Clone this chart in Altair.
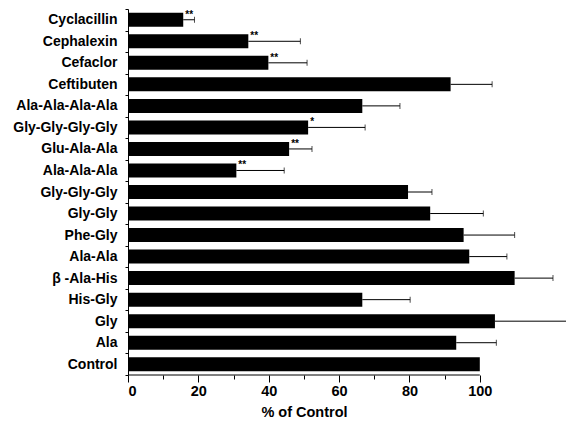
import altair as alt
import pandas as pd

categories = ["Cyclacillin", "Cephalexin", "Cefaclor", "Ceftibuten",
              "Ala-Ala-Ala-Ala", "Gly-Gly-Gly-Gly", "Glu-Ala-Ala", "Ala-Ala-Ala",
              "Gly-Gly-Gly", "Gly-Gly", "Phe-Gly", "Ala-Ala", "β -Ala-His",
              "His-Gly", "Gly", "Ala", "Control"]
values = [15.7, 34.2, 39.9, 91.7, 66.6, 51.2, 45.8, 30.8, 79.6, 85.9,
          95.4, 97.0, 109.9, 66.6, 104.3, 93.3, 100.0]
errors = [3.2, 14.8, 11.0, 11.8, 10.7, 16.2, 6.5, 13.6, 6.8, 15.1,
          14.5, 10.7, 10.9, 13.6, 22.1, 11.4, None]
stars = ["**", "**", "**", "", "", "*", "**", "**", "", "",
         "", "", "", "", "", "", ""]
x_ticks = [0, 10, 20, 30, 40, 50, 60, 70, 80, 90, 100]
x_domain = [0, 124.5]
axis_span = [0, 100]

df = pd.DataFrame({"cat": categories, "val": values, "err": errors, "star": stars})
df["hi"] = df["val"] + df["err"]
err_df = df.dropna(subset=["err"])
star_df = df[df["star"] != ""]
span_df = pd.DataFrame({"a": [axis_span[0]], "b": [axis_span[1]]})

W, H = 438, 366
FONT = "Liberation Sans"

xscale = alt.Scale(domain=x_domain, nice=False, zero=True)
yscale = alt.Scale(domain=categories, paddingInner=0, paddingOuter=0)

y_enc = alt.Y("cat:N", sort=categories, scale=yscale,
              axis=alt.Axis(title=None, labelFont=FONT, labelFontSize=14,
                            labelFontWeight="bold", labelColor="black",
                            tickBand="extent", tickSize=3, tickColor="black",
                            domainColor="black", labelPadding=8, grid=False))

bars = alt.Chart(df).mark_bar(color="black", size=14).encode(
    x=alt.X("val:Q", scale=xscale,
            axis=alt.Axis(title="% of Control", values=x_ticks,
                          labelExpr="datum.value % 20 === 0 ? datum.label : ''",
                          tickSize={"condition": {"test": "datum.value % 20 === 0", "value": 7}, "value": 4},
                          tickColor="black", domain=False, grid=False,
                          labelFont=FONT, labelFontSize=14.5, labelFontWeight="bold",
                          labelColor="black", labelPadding=2,
                          titleFont=FONT, titleFontSize=14.5, titleFontWeight="bold",
                          titleColor="black", titleX=176, titleY=41,
                          titleBaseline="alphabetic")),
    y=y_enc,
)

err_line = alt.Chart(err_df).mark_rule(color="black", strokeWidth=1, clip=True).encode(
    x="val:Q", x2="hi:Q", y=alt.Y("cat:N", sort=categories))

caps = alt.Chart(err_df).mark_tick(color="black", thickness=1, size=6,
                                   orient="vertical", clip=True).encode(
    x="hi:Q", y=alt.Y("cat:N", sort=categories))

star_text = alt.Chart(star_df).mark_text(
    align="left", baseline="middle", dx=2, dy=-5, font=FONT, fontSize=10,
    fontWeight="bold", color="black").encode(
    x="val:Q", y=alt.Y("cat:N", sort=categories), text="star:N")

domain_line = alt.Chart(span_df).mark_rule(color="black", strokeWidth=1).encode(
    x="a:Q", x2="b:Q", y=alt.value(H))

chart = alt.layer(bars, err_line, caps, star_text, domain_line).properties(
    width=W, height=H,
    autosize=alt.AutoSizeParams(type="none"),
    padding={"left": 120, "top": 1, "right": 0, "bottom": 43},
).configure_view(stroke=None)

chart.save("out.html", embed_options={"renderer": "svg", "actions": False})
